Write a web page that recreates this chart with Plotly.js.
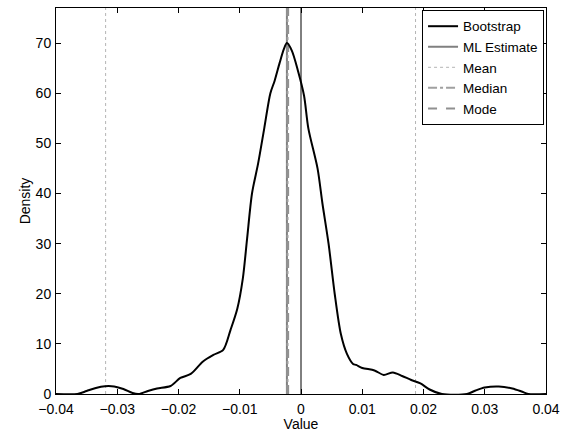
<!DOCTYPE html>
<html>
<head>
<meta charset="utf-8">
<script src="https://cdn.plot.ly/plotly-3.0.1.min.js"></script>
<style>html,body{margin:0;padding:0;background:#fff;}#chart{width:570px;height:432px;}</style>
</head>
<body>
<div id="chart"></div>
<script>
// Bootstrap density curve
const bootX = [-0.04, -0.0365, -0.035, -0.0335, -0.032, -0.0305, -0.029, -0.0275, -0.0265, -0.025, -0.0235, -0.0213, -0.0197, -0.018, -0.016, -0.0143, -0.0127, -0.0115, -0.0104, -0.0095, -0.0088, -0.008, -0.007, -0.006, -0.005, -0.0043, -0.0035, -0.0028, -0.0023, -0.0015, -0.0005, 0.0005, 0.0012, 0.0027, 0.0035, 0.0045, 0.0055, 0.0065, 0.0075, 0.0085, 0.009, 0.01, 0.012, 0.0135, 0.015, 0.0165, 0.018, 0.0195, 0.021, 0.023, 0.0271, 0.0285, 0.03, 0.0323, 0.0345, 0.036, 0.0371, 0.04];
const bootY = [0, 0, 0.6, 1.2, 1.55, 1.5, 1.0, 0.2, 0, 0.6, 1.1, 1.6, 3.2, 4, 6.5, 7.8, 8.8, 12.8, 17, 23, 31, 40, 46, 53, 60, 62.5, 66, 68.8, 70, 68.5, 64.5, 59.5, 53, 45, 38, 30, 20, 12, 8, 6, 5.8, 5.2, 4.7, 3.8, 4.3, 3.6, 2.8, 2.1, 0.9, 0, 0, 0.7, 1.3, 1.5, 1.1, 0.5, 0, 0];

// Vertical reference values
const mlEstimate = -0.0023;
const meanLines = [-0.0319, 0.0187];
const medianValue = -0.0022;
const modeValue = -0.0021;
const zeroLine = 0;
const yTop = 77;

const legendNames = ["Bootstrap", "ML Estimate", "Mean", "Median", "Mode"];

const vline = (x) => ({x: [x, x], y: [0, yTop]});

const meanX = [], meanY = [];
meanLines.forEach((v, i) => { if (i) { meanX.push(null); meanY.push(null); } meanX.push(v, v); meanY.push(0, yTop); });

const traces = [
  {x: [zeroLine, zeroLine], y: [0, yTop], mode: 'lines', line: {color: '#000', width: 1}, showlegend: false, hoverinfo: 'skip'},
  {x: meanX, y: meanY, mode: 'lines', name: legendNames[2], line: {color: '#b4b4b4', width: 1, dash: 'dot'}, connectgaps: false, legendrank: 3},
  Object.assign(vline(mlEstimate), {mode: 'lines', name: legendNames[1], line: {color: '#808080', width: 2}, legendrank: 2}),
  Object.assign(vline(medianValue), {mode: 'lines', name: legendNames[3], line: {color: '#a0a0a0', width: 2, dash: 'dashdot'}, legendrank: 4}),
  Object.assign(vline(modeValue), {mode: 'lines', name: legendNames[4], line: {color: '#909090', width: 2, dash: 'dash'}, legendrank: 5}),
  {x: bootX, y: bootY, mode: 'lines', name: legendNames[0], line: {color: '#000', width: 2, shape: 'spline', smoothing: 0.8}, legendrank: 1}
];

const FONT = 'Liberation Sans, Arial, Helvetica, sans-serif';

const axisCommon = {
  showgrid: false, zeroline: false, showline: true, linecolor: '#000', linewidth: 1,
  mirror: 'ticks', ticks: 'inside', ticklen: 5, tickcolor: '#000',
  tickfont: {family: FONT, size: 14, color: '#000'}
};

const layout = {
  width: 570, height: 432,
  margin: {l: 56, r: 24, t: 8, b: 38},
  paper_bgcolor: '#fff', plot_bgcolor: '#fff',
  font: {family: FONT, size: 14, color: '#000'},
  xaxis: Object.assign({}, axisCommon, {
    range: [-0.04, 0.04], dtick: 0.01, tick0: 0, ticklabelstandoff: 2,
    title: {text: 'Value', standoff: 2, font: {size: 14}}
  }),
  yaxis: Object.assign({}, axisCommon, {
    range: [0, yTop], dtick: 10, tick0: 0, ticklabelstandoff: 1,
    title: {text: 'Density', standoff: 1, font: {size: 14}}
  }),
  legend: {
    x: 0.996, y: 0.995, xanchor: 'right', yanchor: 'top',
    bgcolor: '#fff', bordercolor: '#000', borderwidth: 1,
    font: {size: 13.5}, traceorder: 'normal'
  }
};

Plotly.newPlot('chart', traces, layout, {displayModeBar: false, staticPlot: true});
</script>
</body>
</html>
